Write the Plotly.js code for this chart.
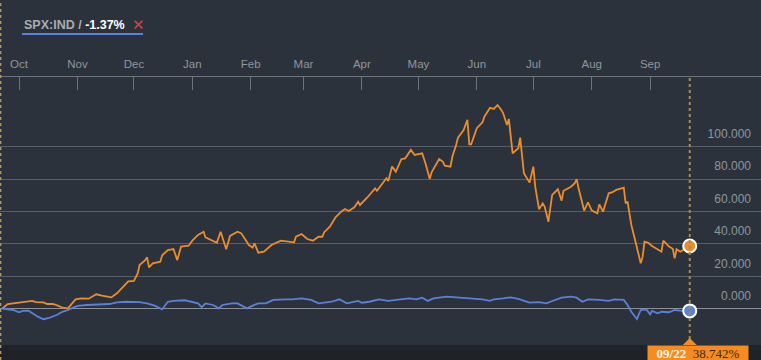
<!DOCTYPE html>
<html>
<head>
<meta charset="utf-8">
<script src="https://cdn.plot.ly/plotly-3.0.1.min.js"></script>
<style>
html,body{margin:0;padding:0;background:#2b323c;}
#chart{width:761px;height:360px;}
</style>
</head>
<body>
<div id="chart"></div>
<script>
// ---- Data (percent change since 2014-09-22) ----
const seriesName = "SPX:IND";
const orangeDates = ["2014-09-22","2014-09-25","2014-10-01","2014-10-08","2014-10-10","2014-10-14","2014-10-16","2014-10-19","2014-10-22","2014-10-24","2014-10-27","2014-10-31","2014-11-03","2014-11-07","2014-11-11","2014-11-14","2014-11-19","2014-11-22","2014-11-28","2014-12-01","2014-12-03","2014-12-04","2014-12-07","2014-12-08","2014-12-09","2014-12-11","2014-12-15","2014-12-16","2014-12-19","2014-12-22","2014-12-24","2014-12-26","2014-12-30","2015-01-01","2015-01-04","2015-01-07","2015-01-08","2015-01-12","2015-01-14","2015-01-16","2015-01-17","2015-01-19","2015-01-21","2015-01-25","2015-01-27","2015-01-31","2015-02-02","2015-02-03","2015-02-05","2015-02-08","2015-02-12","2015-02-17","2015-02-24","2015-02-25","2015-02-28","2015-03-03","2015-03-06","2015-03-09","2015-03-11","2015-03-12","2015-03-15","2015-03-18","2015-03-21","2015-03-23","2015-03-25","2015-03-28","2015-03-30","2015-03-31","2015-04-04","2015-04-08","2015-04-09","2015-04-12","2015-04-14","2015-04-15","2015-04-17","2015-04-19","2015-04-22","2015-04-24","2015-04-27","2015-04-29","2015-05-03","2015-05-05","2015-05-07","2015-05-08","2015-05-12","2015-05-14","2015-05-15","2015-05-18","2015-05-19","2015-05-21","2015-05-22","2015-05-25","2015-05-27","2015-05-28","2015-05-29","2015-06-01","2015-06-04","2015-06-05","2015-06-08","2015-06-10","2015-06-12","2015-06-14","2015-06-15","2015-06-17","2015-06-18","2015-06-20","2015-06-23","2015-06-24","2015-06-26","2015-06-29","2015-07-01","2015-07-02","2015-07-04","2015-07-06","2015-07-07","2015-07-09","2015-07-11","2015-07-14","2015-07-16","2015-07-17","2015-07-21","2015-07-23","2015-07-24","2015-07-25","2015-07-28","2015-07-30","2015-08-01","2015-08-04","2015-08-05","2015-08-07","2015-08-10","2015-08-12","2015-08-13","2015-08-14","2015-08-18","2015-08-19","2015-08-20","2015-08-22","2015-08-24","2015-08-26","2015-08-27","2015-08-28","2015-08-29","2015-08-31","2015-09-02","2015-09-07","2015-09-08","2015-09-11","2015-09-13","2015-09-14","2015-09-15","2015-09-17","2015-09-19","2015-09-22"];
const orangeValues = [0,2.9,3.7,4.8,4.1,3.9,2.9,2.9,1.7,0.6,0.2,5.8,6.4,6.2,8.9,8.0,7.0,9.5,16.9,17.1,21.8,27,30,31.7,25.5,28,29,33,36.2,36.8,30,38.3,38.9,42,45.5,47.5,44,42,40.7,47.5,44,36.7,44.9,47.5,46.5,39.3,37.7,40.4,34.6,35.2,39.3,42,41,44.4,46.1,43,42,44.4,44.4,47.2,50.6,56.4,59.9,61.5,60.3,62.6,66,64,68.8,74.3,72.8,77.4,80.5,78.8,87.7,84.6,92.4,92.8,98,94.9,95.9,88.7,80,84.2,92.4,90.7,88.3,87.7,93.8,101,105.6,110.3,116.5,101.5,101.5,111.4,115,118.5,124,123.3,125.7,122.7,120.6,113.4,117.1,95.9,99,105.6,83.6,77.8,87.7,75.3,61.4,65,63,53.7,70.2,73.7,66.7,72.8,75.3,77.4,80,74.3,60.5,65.7,60.5,58.9,64.4,59.9,71.2,71.9,72.8,73.3,74.7,65,66,51.7,42.4,33.1,28,32.1,41.4,40.7,38.7,35.2,42,38.3,37,31.1,36.7,35.2,36.7,38.742];

const blueDates = ["2014-09-22","2014-09-25","2014-09-28","2014-10-01","2014-10-03","2014-10-06","2014-10-08","2014-10-11","2014-10-14","2014-10-17","2014-10-21","2014-10-24","2014-10-26","2014-10-29","2014-11-01","2014-11-06","2014-11-13","2014-11-18","2014-11-22","2014-11-27","2014-12-04","2014-12-08","2014-12-12","2014-12-16","2014-12-19","2014-12-22","2014-12-28","2014-12-31","2015-01-04","2015-01-06","2015-01-08","2015-01-12","2015-01-15","2015-01-17","2015-01-22","2015-01-25","2015-01-27","2015-01-30","2015-02-02","2015-02-05","2015-02-09","2015-02-13","2015-02-20","2015-02-23","2015-02-28","2015-03-05","2015-03-09","2015-03-12","2015-03-16","2015-03-20","2015-03-24","2015-03-30","2015-04-01","2015-04-05","2015-04-09","2015-04-10","2015-04-15","2015-04-21","2015-04-26","2015-04-30","2015-05-03","2015-05-06","2015-05-09","2015-05-16","2015-05-21","2015-05-24","2015-05-29","2015-06-04","2015-06-08","2015-06-10","2015-06-15","2015-06-19","2015-06-23","2015-06-29","2015-07-04","2015-07-08","2015-07-10","2015-07-16","2015-07-21","2015-07-24","2015-07-27","2015-07-30","2015-08-05","2015-08-10","2015-08-13","2015-08-18","2015-08-20","2015-08-22","2015-08-25","2015-08-27","2015-08-30","2015-09-01","2015-09-02","2015-09-05","2015-09-07","2015-09-11","2015-09-14","2015-09-17","2015-09-22"];
const blueValues = [0,-0.4,-0.8,-2.2,-1.4,-1.2,-2.8,-4.9,-6.5,-5.6,-3.9,-1.9,-1.2,0.2,1.7,2.3,2.7,2.9,3.9,4.3,4.1,3.3,1.9,-0.4,4.3,4.8,5.2,4.3,3.3,0.9,3.3,2.3,0.2,2.3,3.3,3.3,1.9,0.2,1.9,3.3,3.3,5.4,5.8,5.8,6.4,5.4,3.3,3.7,4.3,5.8,3.3,4.8,3.7,4.3,5.4,5.8,4.8,5.8,6.4,5.8,6.8,4.8,6.4,7.4,7.0,6.4,6.4,5.8,4.9,5.8,6.4,7.0,6.0,3.7,4.1,3.3,4.3,6.8,7.4,6.8,4.3,5.8,5.4,4.8,5.8,5.4,2.3,-1.9,-6.4,-0.8,-0.4,-3.5,-1.4,-2.8,-1.9,-2.2,-0.8,-1.2,-1.37];

const monthTicks = ["2014-10-01","2014-11-01","2014-12-01","2015-01-01","2015-02-01","2015-03-01","2015-04-01","2015-05-01","2015-06-01","2015-07-01","2015-08-01","2015-09-01"];
const monthLabels = ["Oct","Nov","Dec","Jan","Feb","Mar","Apr","May","Jun","Jul","Aug","Sep"];
const xRange = ["2014-09-20 22:00", "2015-10-29 20:00"];
const yTickVals = [0, 20, 40, 60, 80, 100];
const yRange = [-22.4, 143.0];

// ---- Styling ----
const BG = "#2b323c";
const ORANGE = "#ec8d2c";
const BLUE = "#5a80dc";
const GRID = "#575e67";
const AXIS = "#6d747c";
const LABEL = "#8f969d";

const lastO = orangeDates.length - 1;
const lastB = blueDates.length - 1;
const endDate = orangeDates[lastO];

const traces = [
  {x: orangeDates, y: orangeValues, type: "scatter", mode: "lines",
   line: {color: ORANGE, width: 1.8}, hoverinfo: "skip"},
  {x: blueDates, y: blueValues, type: "scatter", mode: "lines",
   line: {color: BLUE, width: 1.8}, hoverinfo: "skip"},
  {x: [orangeDates[lastO]], y: [orangeValues[lastO]], type: "scatter", mode: "markers",
   marker: {color: ORANGE, size: 13, line: {color: "#ffffff", width: 2}}, hoverinfo: "skip"},
  {x: [blueDates[lastB]], y: [blueValues[lastB]], type: "scatter", mode: "markers",
   marker: {color: BLUE, size: 13, line: {color: "#ffffff", width: 2}}, hoverinfo: "skip"}
];

const H = 360, T = 77, B = 15;
const plotH = H - T - B;
const py = (px) => (H - B - px) / plotH; // pixel from top -> paper y

const d = endDate.split("-");

const layout = {
  width: 761, height: 360,
  margin: {l: 0, r: 0, t: T, b: B, pad: 0},
  paper_bgcolor: BG, plot_bgcolor: BG,
  showlegend: false,
  hovermode: false,
  font: {family: "Liberation Sans, Arial, sans-serif", color: LABEL},
  xaxis: {
    type: "date", range: xRange, side: "top",
    showgrid: false, zeroline: false,
    showline: true, linecolor: AXIS, linewidth: 1,
    ticks: "inside", ticklen: 13, tickwidth: 1, tickcolor: AXIS,
    tickmode: "array", tickvals: monthTicks, ticktext: monthLabels,
    ticklabelstandoff: 3,
    tickfont: {size: 11.5, color: LABEL, family: "Liberation Sans, Arial, sans-serif"},
    fixedrange: true
  },
  yaxis: {
    range: yRange, side: "right",
    tickvals: yTickVals, tickformat: ".3f",
    ticklabelposition: "inside", ticklabelshift: -13, ticklabelstandoff: 7,
    showgrid: true, gridcolor: GRID, gridwidth: 1,
    zeroline: true, zerolinecolor: "#8a9096", zerolinewidth: 1,
    showline: false, ticks: "",
    tickfont: {size: 12, color: LABEL, family: "Liberation Sans, Arial, sans-serif"},
    fixedrange: true
  },
  shapes: [
    {type: "rect", xref: "paper", yref: "paper", x0: 0, x1: 1, y0: py(H), y1: 0,
     fillcolor: "#1f2328", line: {width: 0}, layer: "below"},
    {type: "line", xref: "x", yref: "paper", x0: endDate, x1: endDate, y0: 0, y1: 1,
     line: {color: "#a38c55", width: 2, dash: "dot"}},
    {type: "line", xref: "paper", yref: "paper", x0: 0.0008, x1: 0.0008, y0: py(H), y1: py(0),
     line: {color: "#b79660", width: 1.5, dash: "dot"}},
    {type: "line", xref: "paper", yref: "paper", x0: 22/761, x1: 143/761, y0: py(34), y1: py(34),
     line: {color: "#5a80e0", width: 2}},
    {type: "path", xref: "x", yref: "paper", xsizemode: "pixel", ysizemode: "pixel",
     xanchor: endDate, yanchor: 0, path: "M-7,0 L0,7 L7,0 Z",
     fillcolor: "#f68b1f", line: {width: 0}}
  ],
  annotations: [
    {xref: "paper", yref: "paper", x: 22/761, y: py(25), xanchor: "left", yanchor: "middle",
     showarrow: false,
     text: "<b>" + seriesName + " / </b><span style=\"color:#ffffff\"><b>" + blueValues[lastB].toFixed(2) + "%</b></span>",
     font: {size: 12.5, color: "#a7adb3", family: "Liberation Sans, Arial, sans-serif"}},
    {xref: "paper", yref: "paper", x: 138/761, y: py(25), xanchor: "center", yanchor: "middle",
     showarrow: false, text: "✕",
     font: {size: 15, color: "#e0403c", family: "DejaVu Sans, sans-serif"}},
    {xref: "x", yref: "paper", x: endDate, y: 0, xanchor: "center", yanchor: "top",
     xshift: 8, showarrow: false, width: 100, height: 15, borderpad: 0,
     bgcolor: "#f68b1f",
     text: "<b><span style=\"color:#fff3e6\">" + d[1] + "/" + d[2] + "</span></b>  <span style=\"color:#3b2a18\">" + orangeValues[lastO].toFixed(3) + "%</span>",
     font: {size: 13, family: "Liberation Serif, DejaVu Serif, serif", color: "#3b2a18"}}
  ]
};

Plotly.newPlot("chart", traces, layout, {displayModeBar: false, staticPlot: true});
</script>
</body>
</html>
